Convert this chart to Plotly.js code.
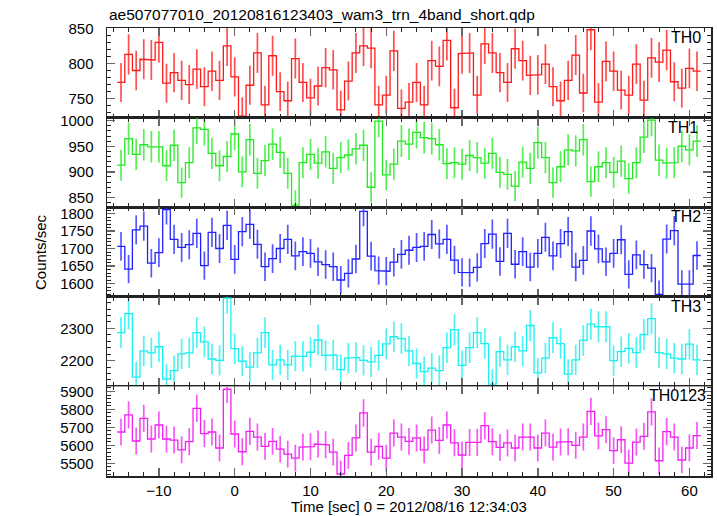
<!DOCTYPE html>
<html>
<head>
<meta charset="utf-8">
<script src="https://cdn.plot.ly/plotly-3.0.1.min.js"></script>
<style>html,body{margin:0;padding:0;background:#fff;}#plot{width:717px;height:516px;}</style>
</head>
<body>
<div id="plot"></div>
<script>
const times = [-15,-14,-13,-12,-11,-10,-9,-8,-7,-6,-5,-4,-3,-2,-1,0,1,2,3,4,5,6,7,8,9,10,11,12,13,14,15,16,17,18,19,20,21,22,23,24,25,26,27,28,29,30,31,32,33,34,35,36,37,38,39,40,41,42,43,44,45,46,47,48,49,50,51,52,53,54,55,56,57,58,59,60,61];

const th0 = [773,813,790,806,805,830,772,787,776,770,792,767,789,776,825,781,725,769,815,741,811,760,747,807,773,751,768,794,791,734,775,815,825,822,741,755,818,
 736,745,773,741,804,796,833,737,814,815,755,828,815,787,773,821,804,783,784,799,767,747,776,812,758,848,745,803,789,762,755,799,748,808,802,819,774,765,793,789];

const th1 = [913,965,934,953,949,949,912,952,879,918,986,983,936,912,930,974,900,963,897,922,954,938,897,835,918,934,917,939,907,928,933,945,952,870,999,894,915,
 960,954,977,967,965,953,916,918,915,932,928,917,936,899,895,872,919,907,957,928,879,910,943,941,963,881,910,918,899,921,887,918,968,1001,923,917,918,950,943,960];

const th2 = [1706,1641,1753,1764,1658,1688,1811,1726,1703,1711,1743,1651,1746,1700,1766,1669,1748,1769,1712,1648,1671,1700,1726,1679,1691,1686,1662,1654,1648,1610,1629,1670,1806,1678,1637,1635,1661,
 1683,1695,1703,1706,1740,1713,1726,1667,1632,1631,1646,1714,1741,1663,1743,1655,1691,1647,1686,1732,1679,1714,1748,1647,1666,1750,1699,1662,1686,1725,1626,1682,1654,1644,1569,1727,1751,1598,1598,1680];

const th3 = [2287,2346,2149,2230,2224,2243,2143,2169,2221,2224,2287,2258,2205,2201,2394,2237,2198,2180,2224,2287,2187,2202,2187,2214,2213,2226,2264,2216,2218,2172,2208,2210,2201,2196,2216,2252,2274,
 2268,2230,2191,2166,2177,2169,2240,2296,2185,2240,2287,2253,2127,2228,2202,2243,2230,2309,2162,2208,2271,2253,2158,2202,2263,2313,2305,2305,2200,2228,2238,2225,2281,2330,2225,2221,2208,2205,2251,2202];

const th0123 = [5674,5769,5624,5750,5635,5713,5635,5629,5575,5620,5806,5665,5674,5585,5912,5663,5564,5678,5646,5594,5622,5579,5551,5529,5590,5592,5607,5603,5562,5440,5544,5641,5780,5562,5594,5529,5668,
 5646,5622,5641,5574,5685,5627,5713,5614,5546,5616,5616,5709,5620,5588,5613,5585,5646,5646,5585,5668,5590,5618,5620,5600,5646,5789,5652,5687,5570,5631,5501,5618,5650,5786,5514,5676,5646,5518,5585,5654];

const bandNames = ["TH0","TH1","TH2","TH3","TH0123"];
const bandSeries = [th0, th1, th2, th3, th0123];
const bandColors = ["#ff1a1a", "#22e822", "#2020ff", "#18f0f0", "#f020f0"];
const barColors  = ["rgba(255,30,30,0.78)", "rgba(40,235,40,0.78)", "rgba(40,40,255,0.78)", "rgba(30,240,240,0.78)", "rgba(245,40,245,0.78)"];
const yRanges = [[723,850.5],[831,1006],[1562,1818],[2120,2398],[5429,5928]];
const yDticks = [50,50,50,100,100];
const yMinor  = [10,10,10,20,20];
const labelX  = [703,700,703,703,708];

const FONT = "Liberation Sans, Arial, Helvetica, sans-serif";
const traces = [];
const layout = {
  width: 717, height: 516,
  margin: {l: 107, r: 6, t: 28, b: 40},
  paper_bgcolor: "#fff", plot_bgcolor: "#fff",
  showlegend: false,
  font: {family: FONT, size: 15, color: "#000"},
  annotations: []
};

const W = 717 - 107 - 6, H = 516 - 28 - 40;
function px2x(p){ return (p - 107) / W; }
function py2y(p){ return (476 - p) / H; }

for (let k = 0; k < 5; k++) {
  const n = k + 1;
  const xa = n === 1 ? "x" : "x" + n;
  const ya = n === 1 ? "y" : "y" + n;
  const vals = bandSeries[k];
  const sx = [], sy = [];
  for (let i = 0; i < times.length; i++) {
    sx.push(times[i] - 0.5, times[i] + 0.5);
    sy.push(vals[i], vals[i]);
  }
  traces.push({
    x: sx, y: sy, xaxis: xa, yaxis: ya, type: "scatter", mode: "lines",
    line: {color: bandColors[k], width: 1.3}, hoverinfo: "skip"
  });
  traces.push({
    x: times, y: vals, xaxis: xa, yaxis: ya, type: "scatter", mode: "markers",
    marker: {size: 1, color: "rgba(0,0,0,0)"},
    error_y: {type: "sqrt", visible: true, color: barColors[k], thickness: 1.7, width: 0}
  });

  const top = 1 - 0.2 * k, bot = top - 0.2;
  const xaxis = {
    domain: [0, 1], anchor: ya, range: [-16.85, 62.85],
    showline: true, mirror: "ticks", linecolor: "#222", linewidth: 1.5,
    ticks: "inside", ticklen: 8, tickwidth: 1.5, tickcolor: "#666",
    dtick: 10, tick0: 0, showgrid: false, zeroline: false,
    showticklabels: n === 5, ticklabelstandoff: 0,
    tickfont: {family: FONT, size: 15, color: "#000"},
    minor: {ticks: "inside", ticklen: 4, tickwidth: 1, tickcolor: "#222", dtick: 2, tick0: 0, showgrid: false}
  };
  if (n !== 5) xaxis.matches = "x5";
  layout["xaxis" + (n === 1 ? "" : n)] = xaxis;
  layout["yaxis" + (n === 1 ? "" : n)] = {
    domain: [bot, top], anchor: xa, range: yRanges[k],
    showline: true, mirror: "ticks", linecolor: "#222", linewidth: 1.5,
    ticks: "inside", ticklen: 8, tickwidth: 1.5, tickcolor: "#666",
    dtick: yDticks[k], tick0: 0, showgrid: false, zeroline: false,
    ticklabelstandoff: 9,
    tickfont: {family: FONT, size: 15, color: "#000"},
    minor: {ticks: "inside", ticklen: 4, tickwidth: 1, tickcolor: "#222", dtick: yMinor[k], tick0: 0, showgrid: false}
  };
  layout.annotations.push({
    text: bandNames[k], xref: "paper", yref: "paper",
    x: px2x(labelX[k]), y: top, xanchor: "right", yanchor: "top", yshift: 1,
    showarrow: false, font: {family: FONT, size: 16, color: "#000"}
  });
}

layout.annotations.push({
  text: "ae507077010_20120816123403_wam3_trn_4band_short.qdp",
  xref: "paper", yref: "paper", x: 0, y: py2y(14), xanchor: "left", yanchor: "middle",
  showarrow: false, font: {family: FONT, size: 15.5, color: "#000"}
});
layout.annotations.push({
  text: "Counts/sec", xref: "paper", yref: "paper", x: px2x(40), y: py2y(252),
  xanchor: "center", yanchor: "middle", textangle: -90,
  showarrow: false, font: {family: FONT, size: 15, color: "#000"}
});
layout.annotations.push({
  text: "Time [sec] 0 = 2012/08/16 12:34:03", xref: "paper", yref: "paper",
  x: 0.5, y: py2y(516), xanchor: "center", yanchor: "bottom", yshift: -1,
  showarrow: false, font: {family: FONT, size: 15, color: "#000"}
});

Plotly.newPlot("plot", traces, layout, {staticPlot: true, displayModeBar: false});
</script>
</body>
</html>
